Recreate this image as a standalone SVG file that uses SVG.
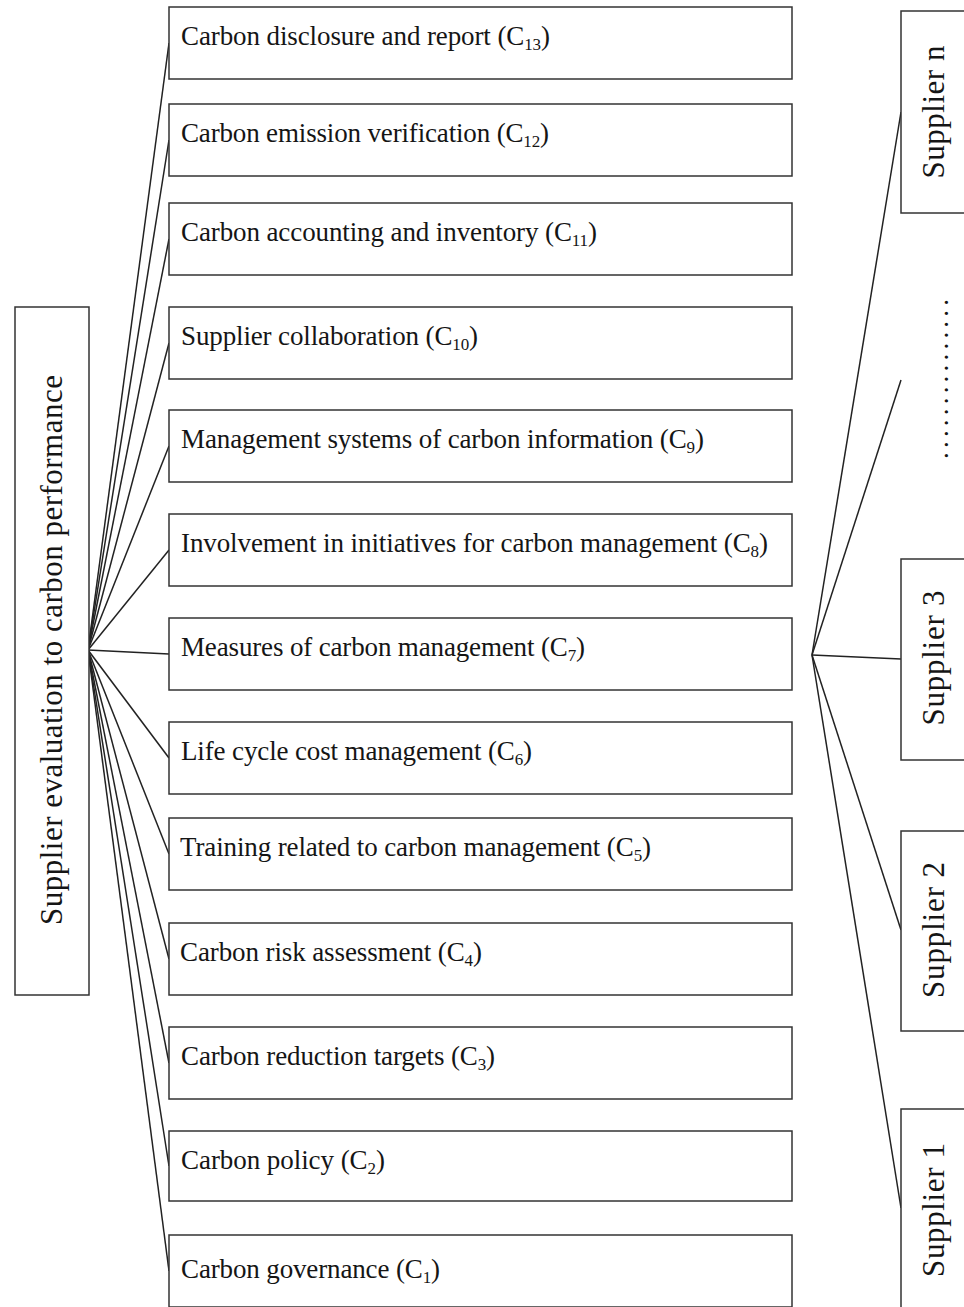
<svg xmlns="http://www.w3.org/2000/svg" width="964" height="1307" viewBox="0 0 964 1307">
<style>
.box{fill:#fff;stroke:#333;stroke-width:1.5}
.lbl{font-family:"Liberation Serif","Times New Roman",serif;font-size:27px;fill:#151515}
.big{font-size:31px}
.sub{font-size:17px}
.con line{stroke:#222;stroke-width:1.5}
</style>
<rect width="964" height="1307" fill="#fff"/>
<g class="con" id="connectors">
<line x1="88" y1="650" x2="169" y2="43"/>
<line x1="88" y1="650" x2="169" y2="140"/>
<line x1="88" y1="650" x2="169" y2="239"/>
<line x1="88" y1="650" x2="169" y2="343"/>
<line x1="88" y1="650" x2="169" y2="446"/>
<line x1="88" y1="650" x2="169" y2="550"/>
<line x1="88" y1="650" x2="169" y2="654"/>
<line x1="88" y1="650" x2="169" y2="758"/>
<line x1="88" y1="650" x2="169" y2="854"/>
<line x1="88" y1="650" x2="169" y2="959"/>
<line x1="88" y1="650" x2="169" y2="1063"/>
<line x1="88" y1="650" x2="169" y2="1166"/>
<line x1="88" y1="650" x2="169" y2="1271"/>
<line x1="812" y1="655" x2="901" y2="112"/>
<line x1="812" y1="655" x2="901" y2="380"/>
<line x1="812" y1="655" x2="901" y2="659"/>
<line x1="812" y1="655" x2="901" y2="930"/>
<line x1="812" y1="655" x2="901" y2="1208"/>
</g>
<g id="root">
<rect class="box" x="15" y="307" width="74" height="688"/>
<text class="lbl big" transform="translate(62,650) rotate(-90)" text-anchor="middle" textLength="550" lengthAdjust="spacing">Supplier evaluation to carbon performance</text>
</g>
<g id="c13"><rect class="box" x="169" y="7" width="623" height="72"/><text class="lbl" x="181" y="45" textLength="369" lengthAdjust="spacing">Carbon disclosure and report (C<tspan class="sub" dy="5">13</tspan><tspan dy="-5">)</tspan></text></g>
<g id="c12"><rect class="box" x="169" y="104" width="623" height="72"/><text class="lbl" x="181" y="142" textLength="368" lengthAdjust="spacing">Carbon emission verification (C<tspan class="sub" dy="5">12</tspan><tspan dy="-5">)</tspan></text></g>
<g id="c11"><rect class="box" x="169" y="203" width="623" height="72"/><text class="lbl" x="181" y="241" textLength="416" lengthAdjust="spacing">Carbon accounting and inventory (C<tspan class="sub" dy="5">11</tspan><tspan dy="-5">)</tspan></text></g>
<g id="c10"><rect class="box" x="169" y="307" width="623" height="72"/><text class="lbl" x="181" y="345" textLength="297" lengthAdjust="spacing">Supplier collaboration (C<tspan class="sub" dy="5">10</tspan><tspan dy="-5">)</tspan></text></g>
<g id="c9"><rect class="box" x="169" y="410" width="623" height="72"/><text class="lbl" x="181" y="448" textLength="523" lengthAdjust="spacing">Management systems of carbon information (C<tspan class="sub" dy="5">9</tspan><tspan dy="-5">)</tspan></text></g>
<g id="c8"><rect class="box" x="169" y="514" width="623" height="72"/><text class="lbl" x="181" y="552" textLength="587" lengthAdjust="spacing">Involvement in initiatives for carbon management (C<tspan class="sub" dy="5">8</tspan><tspan dy="-5">)</tspan></text></g>
<g id="c7"><rect class="box" x="169" y="618" width="623" height="72"/><text class="lbl" x="181" y="656" textLength="404" lengthAdjust="spacing">Measures of carbon management (C<tspan class="sub" dy="5">7</tspan><tspan dy="-5">)</tspan></text></g>
<g id="c6"><rect class="box" x="169" y="722" width="623" height="72"/><text class="lbl" x="181" y="760" textLength="351" lengthAdjust="spacing">Life cycle cost management (C<tspan class="sub" dy="5">6</tspan><tspan dy="-5">)</tspan></text></g>
<g id="c5"><rect class="box" x="169" y="818" width="623" height="72"/><text class="lbl" x="180" y="856" textLength="471" lengthAdjust="spacing">Training related to carbon management (C<tspan class="sub" dy="5">5</tspan><tspan dy="-5">)</tspan></text></g>
<g id="c4"><rect class="box" x="169" y="923" width="623" height="72"/><text class="lbl" x="180" y="961" textLength="302" lengthAdjust="spacing">Carbon risk assessment (C<tspan class="sub" dy="5">4</tspan><tspan dy="-5">)</tspan></text></g>
<g id="c3"><rect class="box" x="169" y="1027" width="623" height="72"/><text class="lbl" x="181" y="1065" textLength="314" lengthAdjust="spacing">Carbon reduction targets (C<tspan class="sub" dy="5">3</tspan><tspan dy="-5">)</tspan></text></g>
<g id="c2"><rect class="box" x="169" y="1131" width="623" height="70"/><text class="lbl" x="181" y="1169" textLength="204" lengthAdjust="spacing">Carbon policy (C<tspan class="sub" dy="5">2</tspan><tspan dy="-5">)</tspan></text></g>
<g id="c1"><rect class="box" x="169" y="1235" width="623" height="72"/><text class="lbl" x="181" y="1278" textLength="259" lengthAdjust="spacing">Carbon governance (C<tspan class="sub" dy="5">1</tspan><tspan dy="-5">)</tspan></text></g>
<g id="supplier-n"><rect class="box" x="901" y="11" width="80" height="202"/><text class="lbl big" transform="translate(944,112) rotate(-90)" text-anchor="middle" textLength="133" lengthAdjust="spacing">Supplier n</text></g>
<g id="ellipsis"><text class="lbl" transform="translate(948,379) rotate(-90)" text-anchor="middle" textLength="160" lengthAdjust="spacing">...............</text></g>
<g id="supplier-3"><rect class="box" x="901" y="559" width="80" height="201"/><text class="lbl big" transform="translate(944,658) rotate(-90)" text-anchor="middle" textLength="135" lengthAdjust="spacing">Supplier 3</text></g>
<g id="supplier-2"><rect class="box" x="901" y="831" width="80" height="200"/><text class="lbl big" transform="translate(944,930) rotate(-90)" text-anchor="middle" textLength="136" lengthAdjust="spacing">Supplier 2</text></g>
<g id="supplier-1"><rect class="box" x="901" y="1109" width="80" height="210"/><text class="lbl big" transform="translate(944,1210) rotate(-90)" text-anchor="middle" textLength="134" lengthAdjust="spacing">Supplier 1</text></g>
</svg>
